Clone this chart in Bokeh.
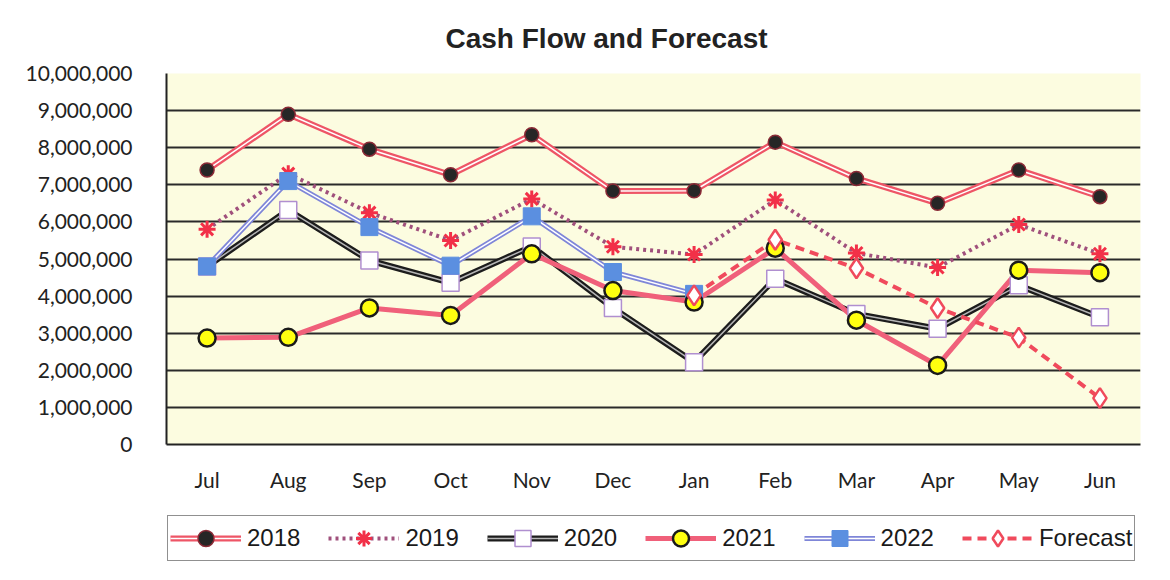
import numpy as np
from bokeh.plotting import figure
from bokeh.layouts import column
from bokeh.models import (ColumnDataSource, FactorRange, Range1d, Legend, LegendItem,
                          NumeralTickFormatter, FixedTicker)
from bokeh.embed import file_html
from bokeh.resources import INLINE

# ---- data ----
months = ["Jul", "Aug", "Sep", "Oct", "Nov", "Dec", "Jan", "Feb", "Mar", "Apr", "May", "Jun"]
y2018 = [7400000, 8900000, 7960000, 7270000, 8350000, 6830000, 6840000, 8150000, 7170000, 6500000, 7400000, 6680000]
y2019 = [5800000, 7300000, 6250000, 5500000, 6620000, 5330000, 5120000, 6590000, 5160000, 4770000, 5930000, 5140000]
y2020 = [4800000, 6320000, 4960000, 4360000, 5340000, 3680000, 2220000, 4470000, 3520000, 3120000, 4290000, 3430000]
y2021 = [2870000, 2890000, 3680000, 3480000, 5140000, 4150000, 3840000, 5290000, 3350000, 2130000, 4700000, 4630000]
y2022 = [4800000, 7100000, 5860000, 4820000, 6150000, 4650000, 4060000, None, None, None, None, None]
forecast = [None, None, None, None, None, None, 4020000, 5520000, 4750000, 3680000, 2880000, 1250000]
y_ticks = [0, 1000000, 2000000, 3000000, 4000000, 5000000, 6000000, 7000000, 8000000, 9000000, 10000000]
series_names = ["2018", "2019", "2020", "2021", "2022", "Forecast"]
chart_title = "Cash Flow and Forecast"

# ---- styles ----
STY = {
    "2018": dict(lines=[dict(line_color="#ee5566", line_width=6), dict(line_color="white", line_width=1.5)],
                 marker=dict(marker="circle", size=14, fill_color="#262626", line_color="#8a2a36", line_width=1.5)),
    "2019": dict(lines=[dict(line_color="#a0507c", line_width=4, line_dash="3 4")],
                 marker=dict(marker="asterisk", size=17, line_color="#f23048", line_width=3)),
    "2020": dict(lines=[dict(line_color="#1c1c1c", line_width=6), dict(line_color="#b5b5b5", line_width=1.5)],
                 marker=dict(marker="square", size=17, fill_color="white", line_color="#b08fd0", line_width=1.5)),
    "2021": dict(lines=[dict(line_color="#f0607a", line_width=5)],
                 marker=dict(marker="circle", size=17, fill_color="#ffff10", line_color="#1a1a1a", line_width=2.5)),
    "2022": dict(lines=[dict(line_color="#7f86d8", line_width=5), dict(line_color="white", line_width=1.5)],
                 marker=dict(marker="square", size=17, fill_color="#5b8fe0", line_color="#5b8fe0", line_width=1)),
    "Forecast": dict(lines=[dict(line_color="#f04a5c", line_width=4, line_dash="9 6")],
                     marker=dict(marker="diamond", size=20, fill_color="white", line_color="#f04a5c", line_width=2.5)),
}


def src(vals):
    return ColumnDataSource(dict(x=months, y=[np.nan if v is None else v for v in vals]))


sources = dict(zip(series_names, (src(v) for v in (y2018, y2019, y2020, y2021, y2022, forecast))))

p = figure(width=1170, height=500,
           x_range=FactorRange(factors=months, range_padding=0),
           y_range=Range1d(0, 10000000),
           output_backend="svg", toolbar_location=None,
           min_border_left=166, min_border_right=30, min_border_top=73, min_border_bottom=56,
           background_fill_color="#fcfce0", border_fill_color="white",
           outline_line_color=None)

p.title.text = chart_title
p.title.align = "left"
p.title.offset = 279
p.title.standoff = 40
p.title.text_font = "Liberation Sans"
p.title.text_font_style = "bold"
p.title.text_font_size = "28px"
p.title.text_color = "#222222"

# axes
yax = p.yaxis[0]
yax.ticker = FixedTicker(ticks=y_ticks)
yax.formatter = NumeralTickFormatter(format="0,0")
yax.major_tick_line_color = None
yax.minor_tick_line_color = None
yax.axis_line_color = "#222222"
yax.axis_line_width = 2
yax.major_label_standoff = 28
yax.major_label_text_font = "Lato"
yax.major_label_text_font_size = "21px"
yax.major_label_text_color = "#222222"

xax = p.xaxis[0]
xax.major_tick_line_color = None
xax.minor_tick_line_color = None
xax.axis_line_color = "#222222"
xax.axis_line_width = 2
xax.major_label_standoff = 16
xax.major_label_text_font = "Lato"
xax.major_label_text_font_size = "21px"
xax.major_label_text_color = "#222222"

p.xgrid.grid_line_color = None
p.ygrid.grid_line_color = "#2a2a2a"
p.ygrid.grid_line_width = 2

# lines first, then markers (marker stacking as in the reference)
for name in series_names:
    for ls in STY[name]["lines"]:
        p.line("x", "y", source=sources[name], **ls)
for name in ["2018", "2019", "2020", "2022", "2021", "Forecast"]:
    p.scatter("x", "y", source=sources[name], **STY[name]["marker"])

# ---- legend strip (separate figure so the boxed legend sits below the chart) ----
q = figure(width=1170, height=80, x_range=Range1d(0, 1), y_range=Range1d(0, 1),
           output_backend="svg", toolbar_location=None,
           x_axis_type=None, y_axis_type=None,
           min_border_left=166, min_border_right=30, min_border_top=0, min_border_bottom=0,
           outline_line_color=None, background_fill_color="white", border_fill_color="white")
q.xgrid.visible = False
q.ygrid.visible = False

items = []
for name in series_names:
    rs = []
    for ls in STY[name]["lines"]:
        rs.append(q.line(x=[-5, -4], y=[-5, -4], **ls))
    rs.append(q.scatter(x=[-5], y=[-5], **STY[name]["marker"]))
    items.append(LegendItem(label=name, renderers=rs))

legend = Legend(items=items, orientation="horizontal", location=(1, 19),
                padding=2, spacing=28, glyph_width=71, glyph_height=40, label_standoff=6,
                label_text_font="Liberation Sans", label_text_font_size="24px",
                label_text_color="#1a1a1a",
                border_line_color="#222222", border_line_width=1.5,
                background_fill_color="white", background_fill_alpha=1, margin=0)
q.add_layout(legend)

layout = column(p, q, spacing=0)
open("out.html", "w").write(file_html(layout, INLINE))
